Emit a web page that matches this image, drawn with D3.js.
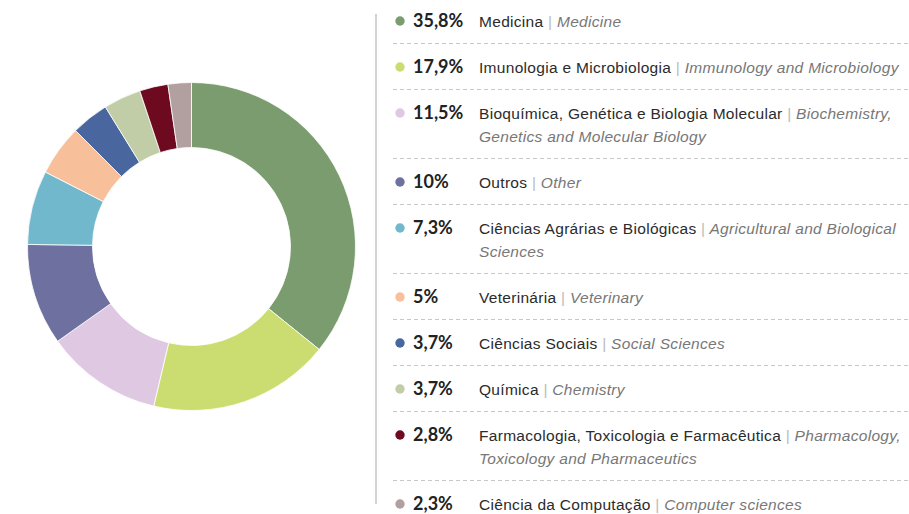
<!DOCTYPE html>
<html>
<head>
<meta charset="utf-8">
<script src="https://cdn.jsdelivr.net/npm/d3@7/dist/d3.min.js"></script>
<style>
  body { margin: 0; background: #fff; }
  svg { display: block; }
</style>
</head>
<body>
<script>
const width = 909
const height = 514

const areasPt = ["Medicina", "Imunologia e Microbiologia", "Bioquímica, Genética e Biologia Molecular", "Outros",
  "Ciências Agrárias e Biológicas", "Veterinária", "Ciências Sociais", "Química",
  "Farmacologia, Toxicologia e Farmacêutica", "Ciência da Computação"]
const areasEn = ["Medicine", "Immunology and Microbiology", "Biochemistry, Genetics and Molecular Biology", "Other",
  "Agricultural and Biological Sciences", "Veterinary", "Social Sciences", "Chemistry",
  "Pharmacology, Toxicology and Pharmaceutics", "Computer sciences"]
const shares = [35.8, 17.9, 11.5, 10, 7.3, 5, 3.7, 3.7, 2.8, 2.3]
const colors = ["#7a9c6e", "#cbdd70", "#dfc8e2", "#6e70a0", "#72b8cd", "#f7c09a", "#4a669e", "#c1cda6", "#6d0a20", "#b29fa0"]

const rows = shares.map((v, i) => ({pt: areasPt[i], en: areasEn[i], value: v, color: colors[i]}))

const pctFormat = d3.formatLocale({decimal: ",", thousands: ".", grouping: [3], currency: ["", ""]}).format(".1~f")

const svg = d3.select("body").append("svg")
    .attr("width", width)
    .attr("height", height)

// donut
const cx = 191.5, cy = 246.5
const pie = d3.pie().sort(null).value(d => d.value)
const arc = d3.arc().innerRadius(99).outerRadius(164)

svg.append("g")
    .attr("transform", `translate(${cx},${cy})`)
  .selectAll("path")
  .data(pie(rows))
  .join("path")
    .attr("d", arc)
    .attr("fill", d => d.data.color)
    .attr("stroke", "#fff")
    .attr("stroke-width", 0.8)

// legend
const legendX = 376
const dotX = 400
const pctX = 413
const textX = 479
const maxTextW = 428
const lineH = 23
const rowGap = 46
const labelFont = "'Liberation Sans', Arial, sans-serif"
const labelSize = 15.5
const labelSpacing = 0.3

svg.append("line")
    .attr("x1", legendX).attr("x2", legendX)
    .attr("y1", 14).attr("y2", 504)
    .attr("stroke", "#c4c4c4")
    .attr("stroke-width", 1.5)

const legend = svg.append("g")
const measure = svg.append("text")
    .attr("font-family", labelFont)
    .attr("font-size", labelSize)
    .attr("letter-spacing", labelSpacing)

// splits "pt | en" into lines of tokens
function wrapRow(d) {
  const tokens = d.pt.split(" ").map(w => ({w, kind: "pt"}))
    .concat([{w: "|", kind: "bar"}])
    .concat(d.en.split(" ").map(w => ({w, kind: "en"})))
  const lines = [[]]
  let cur = ""
  tokens.forEach(t => {
    const trial = cur ? cur + " " + t.w : t.w
    measure.attr("font-style", t.kind == "en" ? "italic" : "normal").text(trial)
    if (cur && measure.node().getComputedTextLength() > maxTextW) {
      lines.push([t])
      cur = t.w
    } else {
      lines[lines.length - 1].push(t)
      cur = trial
    }
  })
  return lines
}

let y = 21
rows.forEach((d, i) => {
  const g = legend.append("g")
  g.append("circle")
    .attr("cx", dotX).attr("cy", y).attr("r", 4.7)
    .attr("fill", d.color)
  g.append("text")
    .attr("x", pctX).attr("y", y).attr("dy", "0.36em")
    .attr("font-family", "Lato, 'Open Sans', sans-serif")
    .attr("font-weight", 700)
    .attr("font-size", 18)
    .attr("fill", "#222")
    .text(pctFormat(d.value) + "%")

  const lines = wrapRow(d)
  lines.forEach((line, li) => {
    const t = g.append("text")
      .attr("x", textX).attr("y", y + li * lineH).attr("dy", "0.36em")
      .attr("font-family", labelFont)
      .attr("font-size", labelSize)
      .attr("letter-spacing", labelSpacing)
    line.forEach((tok, k) => {
      const sp = k > 0 ? " " : ""
      t.append("tspan")
        .attr("fill", tok.kind == "pt" ? "#2b2b2b" : tok.kind == "bar" ? "#bbb" : "#777")
        .attr("font-style", tok.kind == "en" ? "italic" : "normal")
        .text(sp + tok.w)
    })
  })
  const last = y + (lines.length - 1) * lineH
  if (i < rows.length - 1) {
    g.append("line")
      .attr("x1", 393).attr("x2", width)
      .attr("y1", last + 22.5).attr("y2", last + 22.5)
      .attr("stroke", "#c8c8c8")
      .attr("stroke-width", 1)
      .attr("stroke-dasharray", "4,3")
  }
  y = last + rowGap
})
measure.remove()
</script>
</body>
</html>
